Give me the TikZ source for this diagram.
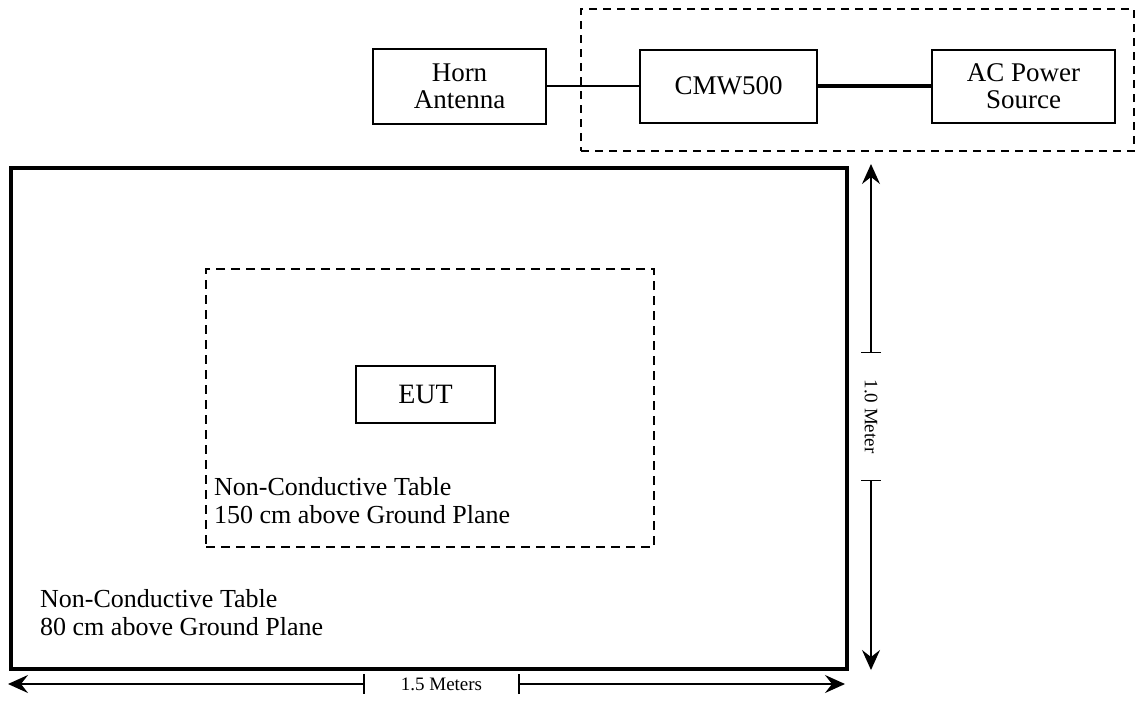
\documentclass[tikz,border=0pt]{standalone}
\usepackage{fontspec}
\setmainfont{Liberation Serif}
\usetikzlibrary{arrows.meta}

\begin{document}
\begin{tikzpicture}[x=1pt,y=-1pt,
  box/.style={draw,line width=2pt,inner sep=0pt,align=center,font=\fontsize{27}{27}\selectfont},
  note/.style={inner sep=0pt,align=left,font=\fontsize{26}{28}\selectfont},
  dimlab/.style={inner sep=0pt,inner xsep=36pt,font=\fontsize{19}{19}\selectfont},
  dim/.style={line width=1.6pt,{Bar[width=20pt]}-{Stealth[length=20pt,width=18pt,inset=7pt]}}]
  \useasboundingbox (0,0) rectangle (1136,705);

  \node[draw,line width=2pt,dash pattern=on 8pt off 6pt,minimum width=553pt,minimum height=142pt] (rig) at (857.5,80) {};
  \node[box,minimum width=173pt,minimum height=75pt] (horn) at (459.5,86) {Horn\\Antenna};
  \node[box,minimum width=177pt,minimum height=73pt] (cmw) at (728.5,86) {CMW500};
  \node[box,minimum width=183pt,minimum height=73pt] (acsrc) at (1023.5,86) {AC Power\\Source};
  \draw[line width=1.5pt] (horn) -- (cmw);
  \draw[line width=3.5pt] (cmw) -- (acsrc);

  \node[draw,line width=4pt,minimum width=836pt,minimum height=501pt] (table) at (429,418.5) {};
  \node[draw,line width=2.5pt,dash pattern=on 9pt off 6pt,minimum width=448pt,minimum height=278pt] (plat) at (430,408) {};
  \node[box,minimum width=139pt,minimum height=57pt,font=\fontsize{28}{28}\selectfont] (eut) at (425.5,394.5) {EUT};
  \node[note,anchor=base west] (platlab) at (214,523) {Non-Conductive Table\\150 cm above Ground Plane};
  \node[note,anchor=base west] (tablelab) at (40,635) {Non-Conductive Table\\80 cm above Ground Plane};

  \coordinate (wl) at (8,684);
  \coordinate (wr) at (845,684);
  \node[dimlab] (wlab) at (441.5,684) {1.5 Meters};
  \draw[dim] (wlab.west) -- (wl);
  \draw[dim] (wlab.east) -- (wr);

  \coordinate (ht) at (871,164);
  \coordinate (hb) at (871,670);
  \node[dimlab,rotate=-90,inner xsep=26pt] (hlab) at (871,416.5) {1.0 Meter};
  \draw[dim] (hlab.west) -- (ht);
  \draw[dim] (hlab.east) -- (hb);
\end{tikzpicture}
\end{document}
